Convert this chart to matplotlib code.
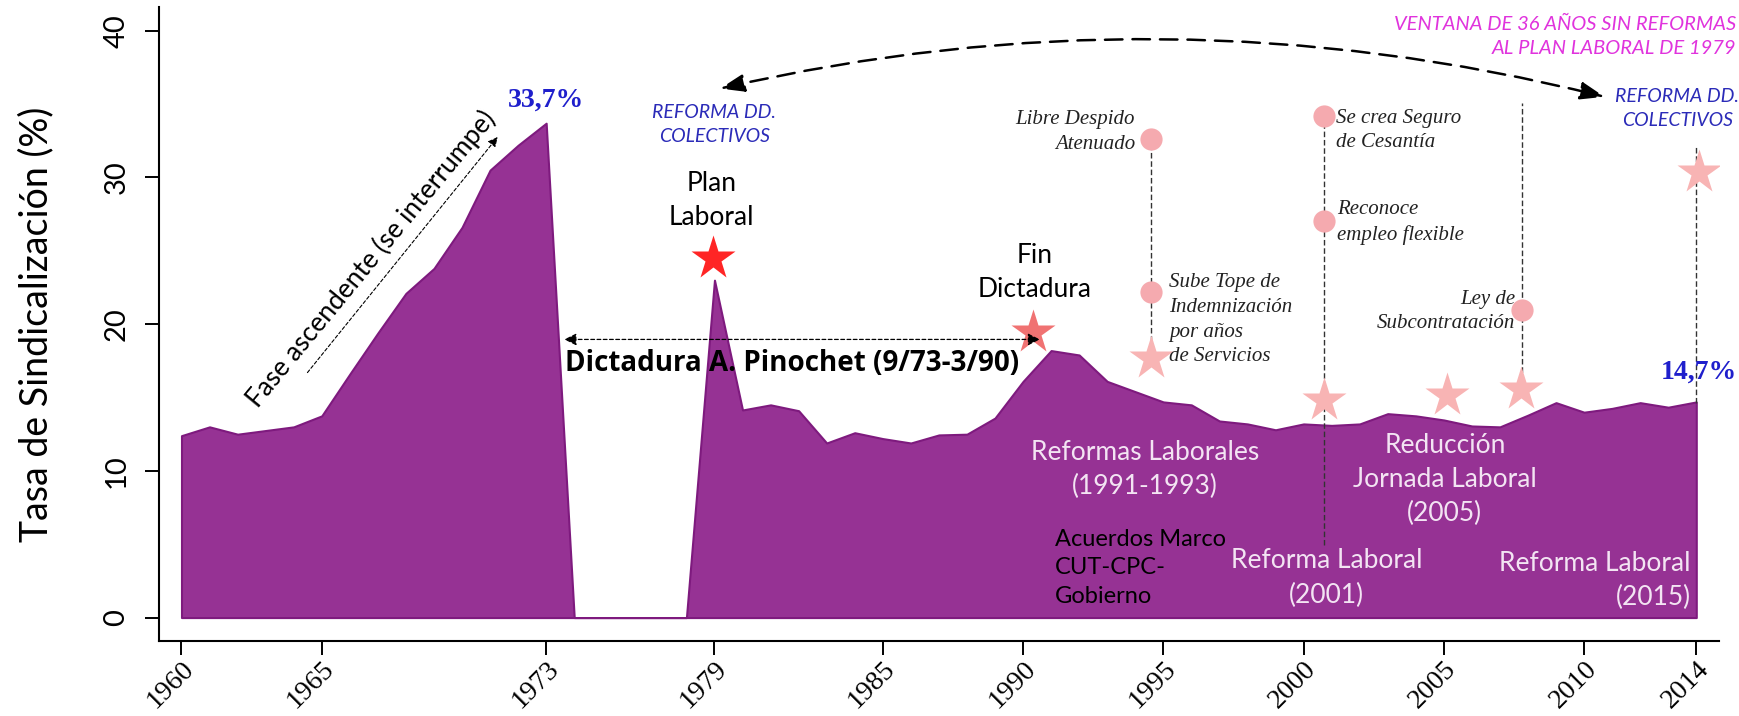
import numpy as np
import matplotlib
matplotlib.use('Agg')
import matplotlib.pyplot as plt
from matplotlib.patches import FancyArrowPatch

# tasa de sindicalizacion, Chile 1960-2014
years = list(range(1960, 2015))
tasa = [12.4, 13.0, 12.5, 12.75, 13.0, 13.75, 16.6, 19.4, 22.1, 23.8,
        26.6, 30.5, 32.2, 33.7, 0.0, 0.0, 0.0, 0.0, 0.0, 23.0,
        14.15, 14.5, 14.1, 11.9, 12.6, 12.2, 11.9, 12.45, 12.5, 13.6,
        16.1, 18.2, 17.9, 16.1, 15.4, 14.7, 14.5, 13.4, 13.2, 12.8,
        13.2, 13.1, 13.2, 13.9, 13.75, 13.47, 13.06, 13.0, 13.8, 14.65,
        14.0, 14.26, 14.65, 14.34, 14.7]

xticks = [1960, 1965, 1973, 1979, 1985, 1990, 1995, 2000, 2005, 2010, 2014]
yticks = [0, 10, 20, 30, 40]

# hitos
star_red = (1978.95, 24.5)
star_fin = (1990.34, 19.5)
stars_pink_x = [1994.56, 2000.73, 2005.1, 2007.75, 2014.08]
stars_pink_y = [17.7, 14.8, 15.2, 15.6, 30.4]
dots_x = [1994.56, 1994.56, 2000.73, 2000.73, 2007.8]
dots_y = [32.65, 22.17, 34.2, 27.0, 20.96]
vlines_x = [1994.56, 2000.73, 2007.8, 2014.0]
vlines_top = [32.65, 34.8, 35.1, 32.2]
vlines_bot = [17.7, 4.95, 15.6, 14.6]

purple = '#963294'
light = '#F3E4F3'
blue = '#2B2BB8'

fig = plt.figure(figsize=(17.39, 7.16), dpi=100)
ax = fig.add_axes([0.0913, 0.1047, 0.8972, 0.8851])

ax.fill_between(years, tasa, 0, facecolor=purple, edgecolor='#7E1A7E', lw=1.5, zorder=1)

for x, t, b in zip(vlines_x, vlines_top, vlines_bot):
    ax.plot([x, x], [b, t], color='#333333', lw=1, dashes=(4, 2), zorder=2)

ax.plot(dots_x, dots_y, 'o', ms=16, color='#F5AAAF', mec='none', zorder=3)
ax.plot(stars_pink_x, stars_pink_y, '*', ms=33, color='#F8B4B4', mec='none', zorder=3)
ax.plot(*star_fin, '*', ms=33, color='#F07272', mec='none', zorder=3)
ax.plot(*star_red, '*', ms=33, color='#FF2525', mec='none', zorder=3)

ax.set_xlim(1959.19, 2014.81)
ax.set_ylim(-1.6, 41.6)
ax.set_xticks(xticks)
ax.set_xticklabels([str(t) for t in xticks], rotation=45, ha='right',
                   rotation_mode='anchor', family='Liberation Serif', fontsize=20)
ax.set_yticks(yticks)
ax.set_yticklabels([str(t) for t in yticks], rotation=90, va='center',
                   family='Lato', fontsize=21)
ax.tick_params(axis='both', direction='out', length=10, width=1.4)
ax.tick_params(axis='y', pad=11)
ax.tick_params(axis='x', pad=1)
for s in ['top', 'right']:
    ax.spines[s].set_visible(False)
for s in ['left', 'bottom']:
    ax.spines[s].set_linewidth(1.5)

ax.set_ylabel('Tasa de Sindicalización (%)', family='Lato', fontsize=27, va='center')
ax.yaxis.set_label_coords(-0.0787, 0.5)

# textos
ax.text(1973.0, 35.3, '33,7%', ha='center', va='center', color='#1F1FCC',
        family='Liberation Serif', weight='bold', fontsize=20)
ax.text(2014.1, 16.75, '14,7%', ha='center', va='center', color='#1F1FCC',
        family='Liberation Serif', weight='bold', fontsize=20, clip_on=False)
ax.text(1966.76, 24.45, 'Fase ascendente (se interrumpe)', rotation=50.5,
        rotation_mode='anchor', ha='center', va='center', family='Lato', fontsize=19)
ax.text(1979.0, 33.6, 'REFORMA DD.\nCOLECTIVOS', ha='center', va='center',
        color=blue, family='Lato', style='italic', fontsize=14, linespacing=1.5)
ax.text(2013.33, 34.67, 'REFORMA DD.\nCOLECTIVOS', ha='center', va='center',
        color=blue, family='Lato', style='italic', fontsize=14, linespacing=1.5,
        clip_on=False)
ax.text(2015.42, 39.58, 'VENTANA DE 36 AÑOS SIN REFORMAS\nAL PLAN LABORAL DE 1979',
        ha='right', va='center', multialignment='right', color='#E033DD',
        family='Lato', style='italic', fontsize=14.5, linespacing=1.5, clip_on=False)
ax.text(1978.9, 28.4, 'Plan\nLaboral', ha='center', va='center', family='Lato',
        fontsize=19, linespacing=1.45)
ax.text(1990.4, 23.5, 'Fin\nDictadura', ha='center', va='center', family='Lato',
        fontsize=19, linespacing=1.45)
ax.text(1981.75, 17.3, 'Dictadura A. Pinochet (9/73-3/90)', ha='center', va='center',
        family='Open Sans', weight='bold', fontsize=20)

serif_it = dict(family='Liberation Serif', style='italic', fontsize=15, color='#222222',
                linespacing=1.4)
ax.text(1993.99, 33.1, 'Libre Despido\nAtenuado', ha='right', va='center',
        multialignment='right', **serif_it)
ax.text(1995.2, 20.3, 'Sube Tope de\nIndemnización\npor años\nde Servicios',
        ha='left', va='center', **serif_it)
ax.text(2001.16, 33.2, 'Se crea Seguro\nde Cesantía', ha='left', va='center', **serif_it)
ax.text(2001.2, 26.95, 'Reconoce\nempleo flexible', ha='left', va='center', **serif_it)
ax.text(2007.54, 20.85, 'Ley de\nSubcontratación', ha='right', va='center',
        multialignment='right', **serif_it)

ax.text(1994.35, 10.1, 'Reformas Laborales\n(1991-1993)', ha='center', va='center',
        color=light, family='Lato', fontsize=19, linespacing=1.45)
ax.text(2005.04, 9.4, 'Reducción\nJornada Laboral\n(2005)', ha='center', va='center',
        color=light, family='Lato', fontsize=19, linespacing=1.45)
ax.text(2000.82, 2.7, 'Reforma Laboral\n(2001)', ha='center', va='center',
        color=light, family='Lato', fontsize=19, linespacing=1.45)
ax.text(2013.8, 2.5, 'Reforma Laboral\n(2015)', ha='right', va='center',
        multialignment='right', color=light, family='Lato', fontsize=19, linespacing=1.45)
ax.text(1991.14, 3.4, 'Acuerdos Marco\nCUT-CPC-\nGobierno', ha='left', va='center',
        color='black', family='Lato', fontsize=17, linespacing=1.45)

# flechas
ax.annotate('', xy=(1971.27, 32.76), xytext=(1964.49, 16.7),
            arrowprops=dict(arrowstyle='-|>', linestyle=(0, (3, 2)), lw=0.8,
                            color='black', mutation_scale=14, shrinkA=0, shrinkB=0))
ax.annotate('', xy=(1990.6, 18.96), xytext=(1973.65, 18.96),
            arrowprops=dict(arrowstyle='<|-|>', linestyle=(0, (3, 2)), lw=0.9,
                            color='black', mutation_scale=18, shrinkA=0, shrinkB=0))
arc = FancyArrowPatch((1979.2, 36.06), (2010.73, 35.5),
                      arrowstyle='<|-|>,head_length=0.55,head_width=0.2',
                      connectionstyle='arc3,rad=-0.12', mutation_scale=27,
                      lw=1.8, linestyle=(0, (7, 4)), color='black',
                      shrinkA=0, shrinkB=0, clip_on=False)
ax.add_patch(arc)

fig.savefig('out.png', dpi=100)
